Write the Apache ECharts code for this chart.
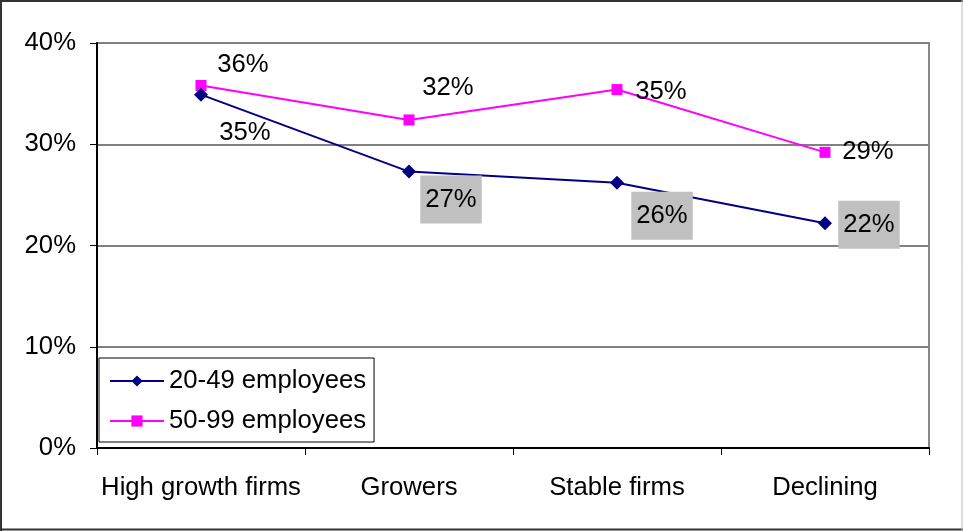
<!DOCTYPE html>
<html>
<head>
<meta charset="utf-8">
<script src="https://cdn.jsdelivr.net/npm/echarts@6/dist/echarts.min.js"></script>
<style>
  html, body { margin: 0; padding: 0; background: #fff; }
  #chart { width: 963px; height: 531px; }
</style>
</head>
<body>
<div id="chart"></div>
<script>
// Share of firms by growth group (%)
const categories = ['High growth firms', 'Growers', 'Stable firms', 'Declining'];
const seriesNames = ['20-49 employees', '50-99 employees'];
const small = [34.9, 27.3, 26.2, 22.2];   // 20-49 employees
const medium = [35.8, 32.4, 35.4, 29.2];  // 50-99 employees
const yTicks = [0, 10, 20, 30, 40];

// label placement per point, relative to the marker
const smallOffsets = [[44, 38], [42, 28], [45, 33], [44, 1.5]];
const mediumOffsets = [[42, -21], [39, -32], [44, 2], [43, 0]];
const smallBoxed = [false, true, true, true];

const FONT = "'Liberation Sans', Arial, sans-serif";
const FS = 25.7;

function pct(v) { return Math.round(v) + '%'; }

const chart = echarts.init(document.getElementById('chart'), null, { renderer: 'canvas' });

const boxLabel = {
  backgroundColor: '#C0C0C0',
  padding: [11, 5, 11, 5]
};

chart.setOption({
  animation: false,
  backgroundColor: '#fff',
  textStyle: { fontFamily: FONT },
  graphic: [
    { type: 'line', shape: { x1: 0, y1: 1, x2: 963, y2: 1 }, style: { stroke: '#333', lineWidth: 2 } },
    { type: 'line', shape: { x1: 1, y1: 0, x2: 1, y2: 531 }, style: { stroke: '#333', lineWidth: 2 } },
    { type: 'line', shape: { x1: 0, y1: 529.5, x2: 963, y2: 529.5 }, style: { stroke: '#333', lineWidth: 2 } },
    { type: 'line', shape: { x1: 962, y1: 0, x2: 962, y2: 531 }, style: { stroke: '#bbb', lineWidth: 1 } }
  ],
  grid: {
    left: 97, right: 34, top: 43, bottom: 83,
    show: true, borderColor: '#888', borderWidth: 2, backgroundColor: 'transparent'
  },
  legend: {
    left: 99, top: 358,
    orient: 'vertical',
    data: seriesNames,
    backgroundColor: '#fff',
    borderColor: '#000', borderWidth: 1,
    padding: [10, 8, 8, 10],
    itemWidth: 54, itemHeight: 14, itemGap: 14,
    textStyle: { fontSize: FS, lineHeight: 26, color: '#000', fontFamily: FONT }
  },
  xAxis: {
    type: 'category',
    data: categories,
    boundaryGap: true,
    axisLine: { show: true, lineStyle: { color: '#000', width: 2 } },
    axisTick: { show: true, interval: 0, length: 7, lineStyle: { color: '#000', width: 1 } },
    axisLabel: { fontSize: FS, color: '#000', margin: 27, interval: 0, fontFamily: FONT },
    splitLine: { show: false }
  },
  yAxis: {
    type: 'value',
    min: yTicks[0], max: yTicks[yTicks.length - 1], interval: 10,
    axisLine: { show: true, lineStyle: { color: '#000', width: 2 } },
    axisTick: { show: true, length: 7, lineStyle: { color: '#000', width: 1 } },
    axisLabel: { fontSize: FS, color: '#000', margin: 21, formatter: '{value}%', fontFamily: FONT },
    splitLine: { show: true, lineStyle: { color: '#808080', width: 2 } }
  },
  series: [
    {
      name: seriesNames[0],
      type: 'line',
      data: small.map((v, i) => ({
        value: v,
        label: Object.assign(
          { offset: smallOffsets[i] },
          smallBoxed[i] ? boxLabel : { backgroundColor: 'transparent' }
        )
      })),
      color: '#000080',
      lineStyle: { color: '#000080', width: 2 },
      symbol: 'diamond', symbolSize: 14,
      itemStyle: { color: '#000080' },
      label: {
        show: true, position: 'inside', fontSize: FS, color: '#000', fontFamily: FONT,
        formatter: p => pct(p.value)
      },
      z: 3
    },
    {
      name: seriesNames[1],
      type: 'line',
      data: medium.map((v, i) => ({ value: v, label: { offset: mediumOffsets[i] } })),
      color: '#FF00FF',
      lineStyle: { color: '#FF00FF', width: 2 },
      symbol: 'rect', symbolSize: 11,
      itemStyle: { color: '#FF00FF' },
      label: {
        show: true, position: 'inside', fontSize: FS, color: '#000', fontFamily: FONT,
        formatter: p => pct(p.value)
      },
      z: 2
    }
  ]
});
</script>
</body>
</html>
